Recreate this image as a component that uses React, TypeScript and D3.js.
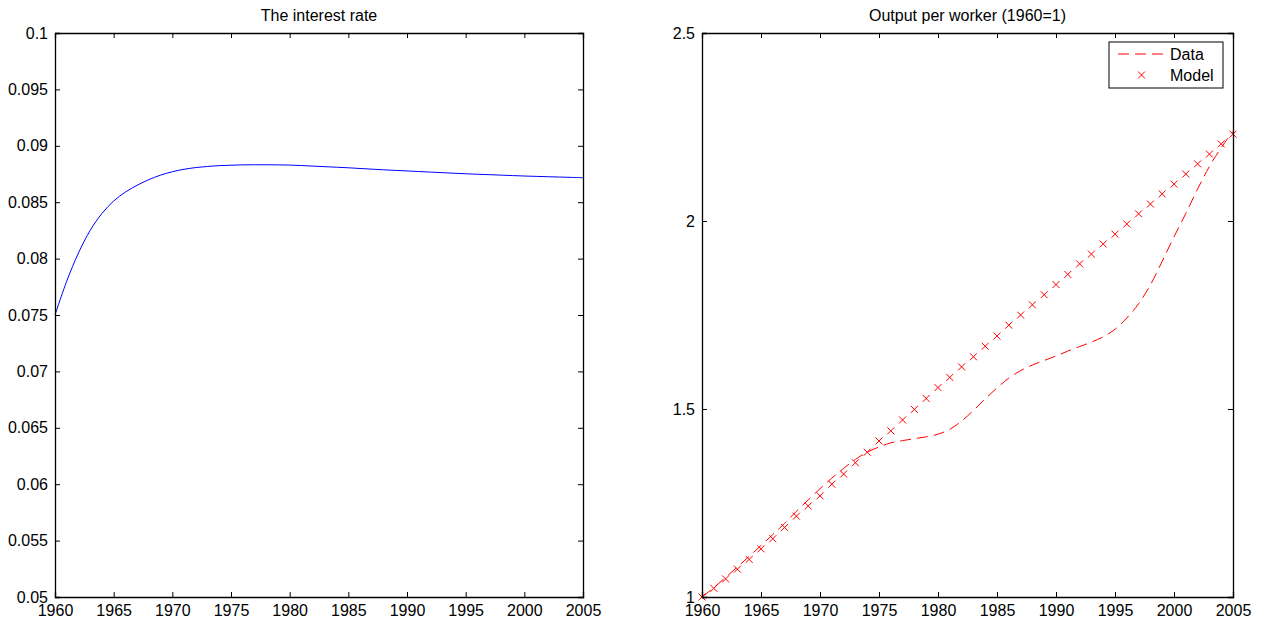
import React, { useEffect, useRef } from 'react';
import * as d3 from 'd3';

// years 1960..2005
const years = d3.range(1960, 2006);

const interestRate = [
  0.07500, 0.07800, 0.08050, 0.08250, 0.08400, 0.08510, 0.08590, 0.08650, 0.08700, 0.08740,
  0.08770, 0.08792, 0.08807, 0.08817, 0.08824, 0.08828, 0.08831, 0.08832, 0.08832, 0.08831,
  0.08829, 0.08825, 0.08820, 0.08815, 0.08810, 0.08805, 0.08799, 0.08793, 0.08787, 0.08782,
  0.08777, 0.08772, 0.08767, 0.08762, 0.08757, 0.08752, 0.08748, 0.08744, 0.08740, 0.08736,
  0.08732, 0.08729, 0.08726, 0.08723, 0.08720, 0.08717,
];

const outputData = [
  1.000, 1.025, 1.052, 1.080, 1.108, 1.137, 1.166, 1.196, 1.228, 1.258,
  1.288, 1.316, 1.342, 1.366, 1.385, 1.399, 1.410, 1.416, 1.421, 1.426,
  1.433, 1.446, 1.468, 1.496, 1.527, 1.556, 1.582, 1.602, 1.617, 1.629,
  1.641, 1.654, 1.666, 1.678, 1.692, 1.712, 1.742, 1.780, 1.830, 1.893,
  1.958, 2.020, 2.085, 2.145, 2.195, 2.238,
];

const outputModel = [
  1.000, 1.023, 1.048, 1.074, 1.100, 1.128, 1.155, 1.185, 1.215, 1.242,
  1.269, 1.300, 1.327, 1.357, 1.385, 1.415, 1.442, 1.471, 1.499, 1.528,
  1.557, 1.584, 1.612, 1.639, 1.667, 1.694, 1.723, 1.750, 1.777, 1.804,
  1.831, 1.858, 1.886, 1.912, 1.939, 1.965, 1.992, 2.019, 2.045, 2.072,
  2.098, 2.125, 2.152, 2.178, 2.205, 2.231,
];

const xTicks = d3.range(1960, 2006, 5);
const leftYTicks = d3.range(0, 11).map((i) => 0.05 + i * 0.005);
const rightYTicks = [1, 1.5, 2, 2.5];
const legendLabels = ['Data', 'Model'];

const FONT = '"Liberation Sans", Arial, Helvetica, sans-serif';

const App = () => {
  const svgRef = useRef(null);

  useEffect(() => {
    const svg = d3.select(svgRef.current);
    svg.selectAll('*').remove(); // Clear previous content

    const top = 33;
    const bottom = 597;

    const drawFrame = (g, x, y, yTicks, fmt, title) => {
      const [x0, x1] = x.range();
      const [y0, y1] = y.range();

      g.append('g')
        .attr('transform', `translate(0,${y0})`)
        .call(d3.axisBottom(x).tickValues(xTicks).tickSize(-5).tickPadding(8).tickFormat(d3.format('d')));
      g.append('g')
        .attr('transform', `translate(0,${y1})`)
        .call(d3.axisTop(x).tickValues(xTicks).tickSize(-5).tickFormat(() => ''));
      g.append('g')
        .attr('transform', `translate(${x0},0)`)
        .call(d3.axisLeft(y).tickValues(yTicks).tickSize(-5).tickPadding(7).tickFormat(fmt));
      g.append('g')
        .attr('transform', `translate(${x1},0)`)
        .call(d3.axisRight(y).tickValues(yTicks).tickSize(-5).tickFormat(() => ''));

      g.selectAll('.domain').attr('stroke', '#000').attr('stroke-width', 1.3);
      g.selectAll('.tick line').attr('stroke', '#000');
      g.selectAll('.tick text')
        .attr('fill', '#000')
        .style('font-family', FONT)
        .style('font-size', '16px');

      g.append('text')
        .attr('x', (x0 + x1) / 2)
        .attr('y', 21)
        .attr('text-anchor', 'middle')
        .style('font-family', FONT)
        .style('font-size', '16px')
        .text(title);
    };

    // left panel: interest rate
    const xL = d3.scaleLinear().domain([1960, 2005]).range([55, 583]);
    const yL = d3.scaleLinear().domain([0.05, 0.1]).range([bottom, top]);
    const gL = svg.append('g');

    gL.append('path')
      .datum(interestRate)
      .attr('fill', 'none')
      .attr('stroke', '#0000ff')
      .attr('stroke-width', 1)
      .attr('d', d3.line().x((d, i) => xL(years[i])).y((d) => yL(d)).curve(d3.curveCatmullRom.alpha(0.5)));

    drawFrame(gL, xL, yL, leftYTicks, (d) => String(+d.toFixed(3)), 'The interest rate');

    // right panel: output per worker
    const xR = d3.scaleLinear().domain([1960, 2005]).range([702, 1233]);
    const yR = d3.scaleLinear().domain([1, 2.5]).range([bottom, top]);
    const gR = svg.append('g');

    gR.append('path')
      .datum(outputData)
      .attr('fill', 'none')
      .attr('stroke', '#ff0000')
      .attr('stroke-width', 1)
      .attr('stroke-dasharray', '11,6')
      .attr('d', d3.line().x((d, i) => xR(years[i])).y((d) => yR(d)).curve(d3.curveMonotoneX));

    const s = 3.5;
    const cross = (sel, cx, cy) => {
      sel.append('path')
        .attr('d', `M${cx - s},${cy - s}L${cx + s},${cy + s}M${cx - s},${cy + s}L${cx + s},${cy - s}`)
        .attr('stroke', '#ff0000')
        .attr('stroke-width', 1)
        .attr('fill', 'none');
    };

    const markers = gR.append('g');
    outputModel.forEach((d, i) => cross(markers, xR(years[i]), yR(d)));

    drawFrame(gR, xR, yR, rightYTicks, (d) => String(d), 'Output per worker (1960=1)');

    // legend
    const lg = gR.append('g');
    lg.append('rect')
      .attr('x', 1109)
      .attr('y', 42)
      .attr('width', 114)
      .attr('height', 46)
      .attr('fill', '#fff')
      .attr('stroke', '#000')
      .attr('stroke-width', 1);
    lg.append('line')
      .attr('x1', 1118)
      .attr('x2', 1165)
      .attr('y1', 54)
      .attr('y2', 54)
      .attr('stroke', '#ff0000')
      .attr('stroke-dasharray', '11,6');
    cross(lg, 1141.5, 75);
    legendLabels.forEach((t, i) => {
      lg.append('text')
        .attr('x', 1170)
        .attr('y', 60 + i * 21)
        .style('font-family', FONT)
        .style('font-size', '16px')
        .text(t);
    });
  }, []);

  return (
    <svg
      ref={svgRef}
      width={1266}
      height={625}
      style={{ position: 'absolute', left: 0, top: 0, background: '#fff' }}
    ></svg>
  );
};

export default App;
